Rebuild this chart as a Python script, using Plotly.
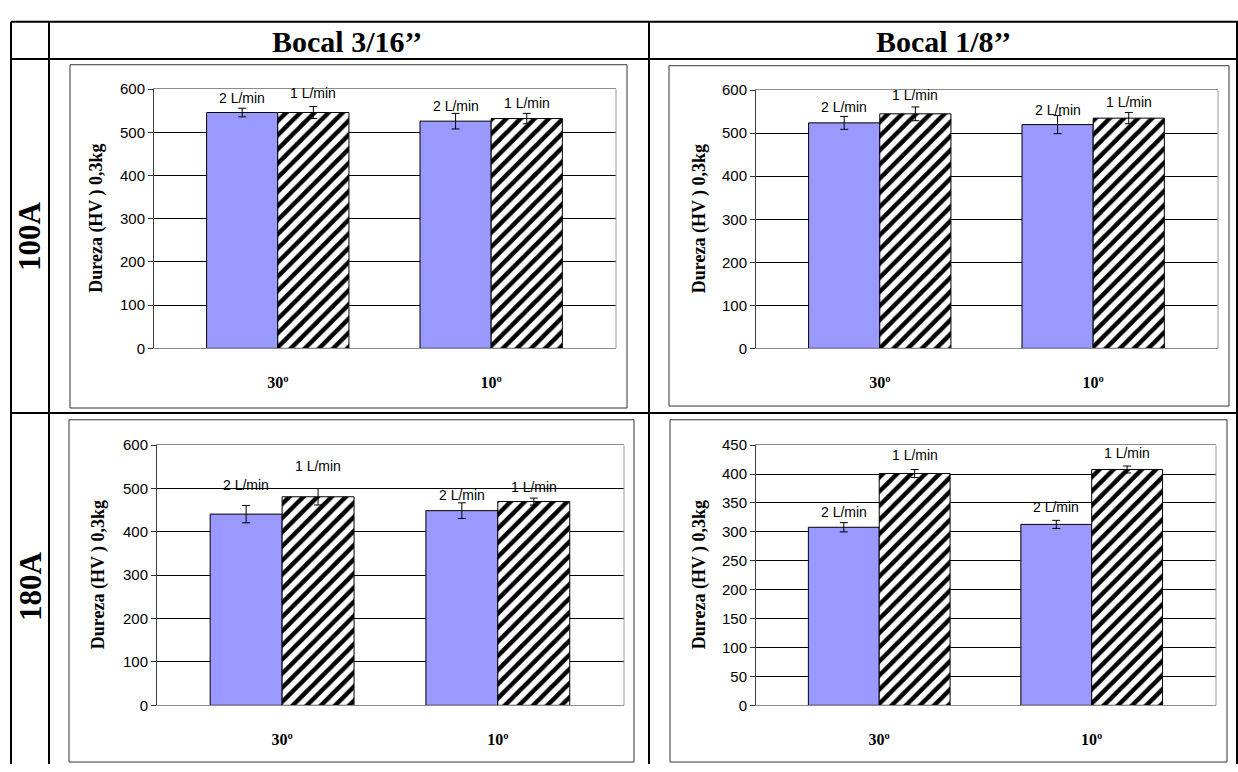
import plotly.graph_objects as go

# ---------------- data ----------------
categories = ["30º", "10º"]
series_names = ["2 L/min", "1 L/min"]
col_titles = ["Bocal 3/16’’", "Bocal 1/8’’"]
row_titles = ["100A", "180A"]
y_title = "Dureza (HV ) 0,3kg"

# Bocal 3/16'' - 100A
tl_2lmin = [546, 526]
tl_2lmin_err = [10, 18]
tl_1lmin = [546, 532]
tl_1lmin_err = [14, 12]
# Bocal 1/8'' - 100A
tr_2lmin = [524, 520]
tr_2lmin_err = [15, 21]
tr_1lmin = [545, 535]
tr_1lmin_err = [16, 13]
# Bocal 3/16'' - 180A
bl_2lmin = [441, 449]
bl_2lmin_err = [20, 18]
bl_1lmin = [481, 470]
bl_1lmin_err = [19, 8]
# Bocal 1/8'' - 180A
br_2lmin = [308, 313]
br_2lmin_err = [8, 7]
br_1lmin = [401, 408]
br_1lmin_err = [7, 6]

# ---------------- layout helpers ----------------
W, H = 1238, 772
def px(p):
    return p / W
def py(p):
    return 1 - p / H

SERIF = "Liberation Serif"
SANS = "Liberation Sans"
BLUE = "#9999FF"

panels = [
    dict(s2=tl_2lmin, e2=tl_2lmin_err, s1=tl_1lmin, e1=tl_1lmin_err,
         plot=(154, 616, 82, 347), box=(70, 627, 57, 408), ymax=600, dtick=100,
         ytx=97, shifts2=[15, 15], shifts1=[20, 16]),
    dict(s2=tr_2lmin, e2=tr_2lmin_err, s1=tr_1lmin, e1=tr_1lmin_err,
         plot=(756, 1218, 83, 347), box=(669, 1229, 58, 406), ymax=600, dtick=100,
         ytx=699, shifts2=[16, 15], shifts1=[19, 16]),
    dict(s2=bl_2lmin, e2=bl_2lmin_err, s1=bl_1lmin, e1=bl_1lmin_err,
         plot=(157, 624, 446, 712), box=(69, 634, 420, 770), ymax=600, dtick=100,
         ytx=98, shifts2=[29, 16], shifts1=[31, 15]),
    dict(s2=br_2lmin, e2=br_2lmin_err, s1=br_1lmin, e1=br_1lmin_err,
         plot=(756, 1216, 446, 712), box=(670, 1227, 420, 770), ymax=450, dtick=50,
         ytx=699, shifts2=[15, 17], shifts1=[19, 16]),
]

fig = go.Figure()
shapes = []
annotations = []
xpos = list(range(len(categories)))

for i, p in enumerate(panels):
    n = "" if i == 0 else str(i + 1)
    xa, ya = "x" + n, "y" + n
    fig.add_trace(go.Bar(
        x=xpos, y=p["s2"], name=series_names[0], xaxis=xa, yaxis=ya,
        marker=dict(color=BLUE, line=dict(color="#000000", width=1)),
        error_y=dict(type="data", array=p["e2"], color="#000000", thickness=1, width=4),
        showlegend=False, hoverinfo="skip"))
    fig.add_trace(go.Bar(
        x=xpos, y=p["s1"], name=series_names[1], xaxis=xa, yaxis=ya,
        marker=dict(color="white", line=dict(color="#000000", width=1),
                    pattern=dict(shape="/", fgcolor="#000000", bgcolor="white",
                                 size=10, solidity=0.45, fillmode="replace")),
        error_y=dict(type="data", array=p["e1"], color="#000000", thickness=1, width=4),
        showlegend=False, hoverinfo="skip"))

    x0, x1, y0, y1 = p["plot"]
    fig.layout["xaxis" + n] = dict(
        domain=[px(x0), px(x1)], anchor=ya, range=[-0.58, 1.585],
        tickmode="array", tickvals=xpos, ticktext=categories,
        tickfont=dict(family=SERIF, size=16, color="#000", weight="bold"),
        ticks="", ticklabelstandoff=19,
        showgrid=False, zeroline=False, showline=True, linecolor="#8c8c8c",
        linewidth=1, mirror=True, fixedrange=True)
    fig.layout["yaxis" + n] = dict(
        domain=[py(y1), py(y0)], anchor=xa, range=[0, p["ymax"]], dtick=p["dtick"],
        tick0=0, tickfont=dict(family=SANS, size=15, color="#000"),
        ticks="outside", ticklen=5, tickcolor="#333", tickwidth=1,
        showgrid=True, gridcolor="#000000", gridwidth=1, zeroline=False,
        showline=True, linecolor="#404040", linewidth=1, fixedrange=True)

    # plot area right border (grey)
    shapes.append(dict(type="line", xref="paper", yref="paper",
                       x0=px(x1), x1=px(x1), y0=py(y1), y1=py(y0),
                       line=dict(color="#9a9a9a", width=1)))
    # chart area border
    bx0, bx1, by0, by1 = p["box"]
    shapes.append(dict(type="rect", xref="paper", yref="paper",
                       x0=px(bx0), x1=px(bx1), y0=py(by1), y1=py(by0),
                       line=dict(color="#333333", width=1)))
    # y axis title
    annotations.append(dict(text=y_title, xref="paper", yref="paper",
                            x=px(p["ytx"]), y=py((y0 + y1) / 2), showarrow=False,
                            textangle=-90, xanchor="center", yanchor="middle",
                            font=dict(family=SERIF, size=18, color="#000", weight="bold")))
    # data labels
    for j, c in enumerate(xpos):
        for off, vals, sh, lab in [(-1 / 6, p["s2"], p["shifts2"], series_names[0]),
                                   (1 / 6, p["s1"], p["shifts1"], series_names[1])]:
            annotations.append(dict(text=lab, xref=xa, yref=ya, x=c + off, y=vals[j],
                                    yshift=sh[j], showarrow=False, xanchor="center",
                                    yanchor="middle",
                                    font=dict(family=SANS, size=14, color="#000")))

# table lines
tbl = dict(color="#000000", width=2)
for xv in [11, 49, 649, 1237]:
    shapes.append(dict(type="line", xref="paper", yref="paper",
                       x0=px(xv), x1=px(xv), y0=py(772), y1=py(13), line=tbl))
for yv in [13, 51, 413]:
    shapes.append(dict(type="line", xref="paper", yref="paper",
                       x0=px(11), x1=px(1238), y0=py(yv), y1=py(yv), line=tbl))

# header and row titles
for t, cx in zip(col_titles, [347, 943]):
    annotations.append(dict(text=t, xref="paper", yref="paper", x=px(cx), y=py(33),
                            showarrow=False, xanchor="center", yanchor="middle",
                            font=dict(family=SERIF, size=30, color="#000", weight="bold")))
for t, cy in zip(row_titles, [232, 590]):
    annotations.append(dict(text=t, xref="paper", yref="paper", x=px(30), y=py(cy),
                            showarrow=False, xanchor="center", yanchor="middle",
                            textangle=-90,
                            font=dict(family=SERIF, size=31, color="#000", weight="bold")))

fig.update_layout(
    width=W, height=H, margin=dict(l=0, r=0, t=0, b=0),
    paper_bgcolor="white", plot_bgcolor="white",
    barmode="group", bargap=0.333, bargroupgap=0,
    shapes=shapes, annotations=annotations, showlegend=False,
)

fig.write_html("out.html", config={"displayModeBar": False},
               post_script="document.body.style.margin='0';document.body.style.overflow='hidden';")
